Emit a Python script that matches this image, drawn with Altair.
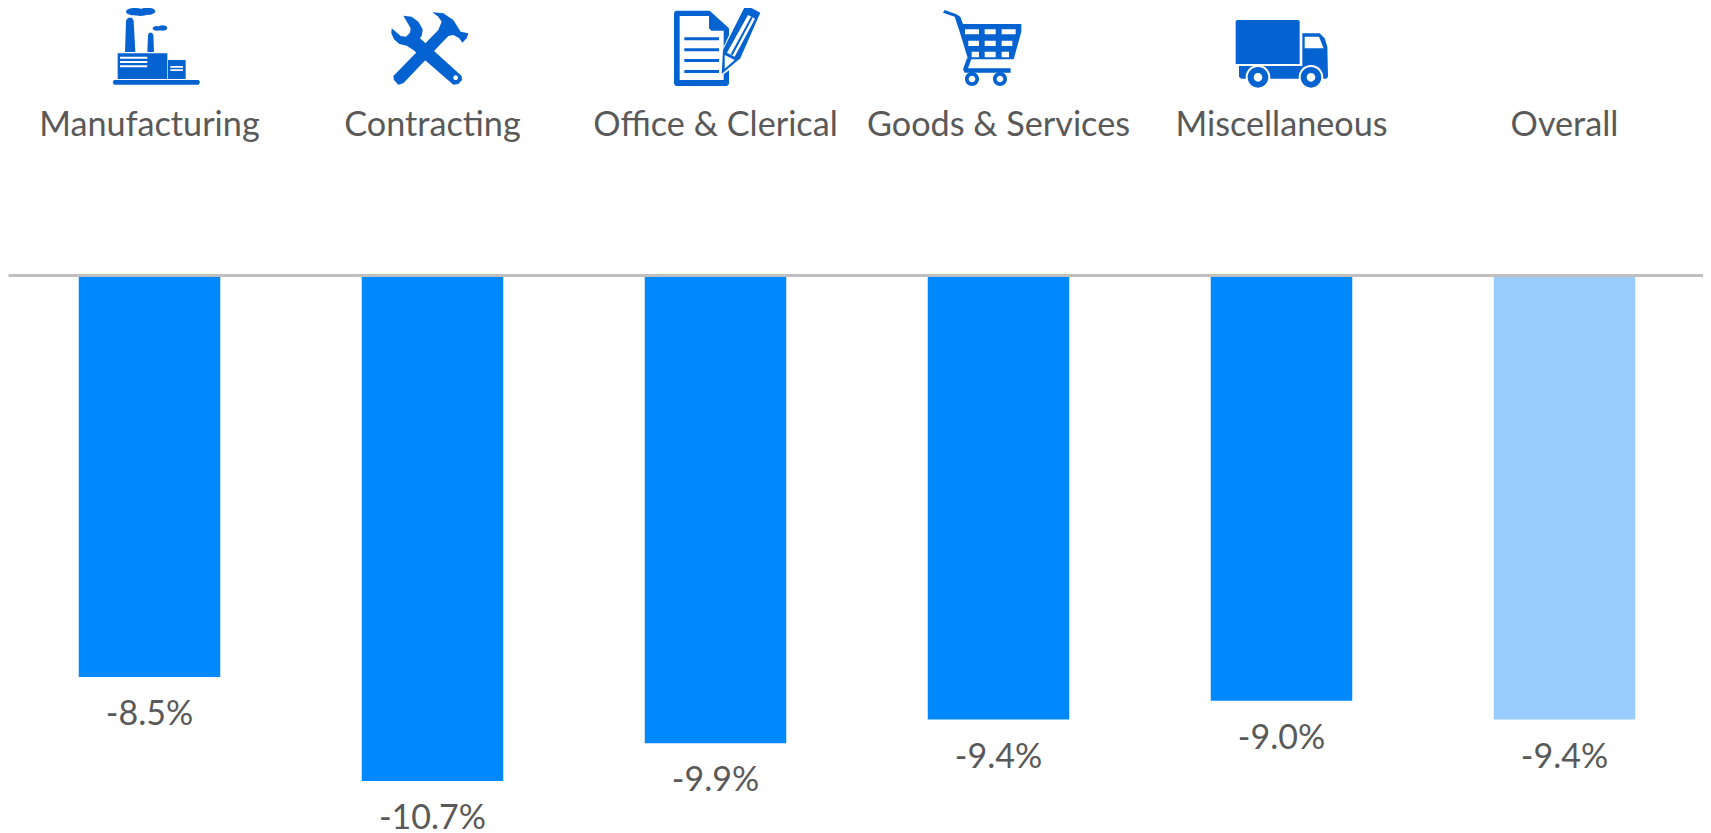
import re
import altair as alt
import pandas as pd

categories = ["Manufacturing", "Contracting", "Office & Clerical", "Goods & Services", "Miscellaneous", "Overall"]
values = [-8.5, -10.7, -9.9, -9.4, -9.0, -9.4]
bar_colors = ["#0088FF", "#0088FF", "#0088FF", "#0088FF", "#0088FF", "#99CCFF"]
labels = ["-8.5%", "-10.7%", "-9.9%", "-9.4%", "-9.0%", "-9.4%"]

BLUE = "#0563D1"
WHITE = "#FFFFFF"
TEXT = "#595959"


def poly(*pts):
    return "M" + " L".join(f"{x} {y}" for x, y in pts) + " Z"


def rect(x0, y0, x1, y1):
    return poly((x0, y0), (x1, y0), (x1, y1), (x0, y1))


def ell(cx, cy, rx, ry=None):
    ry = rx if ry is None else ry
    k = 0.5523
    return (
        f"M{cx + rx} {cy} "
        f"C{cx + rx} {cy + k * ry} {cx + k * rx} {cy + ry} {cx} {cy + ry} "
        f"C{cx - k * rx} {cy + ry} {cx - rx} {cy + k * ry} {cx - rx} {cy} "
        f"C{cx - rx} {cy - k * ry} {cx - k * rx} {cy - ry} {cx} {cy - ry} "
        f"C{cx + k * rx} {cy - ry} {cx + rx} {cy - k * ry} {cx + rx} {cy} Z"
    )


def shift(d, ox, oy):
    nums = iter(range(10**6))

    def repl(m):
        v = float(m.group(0))
        return f"{v - (ox if next(nums) % 2 == 0 else oy):.2f}"

    return re.sub(r"-?\d+\.?\d*", repl, d)


factory = [
    (BLUE, ell(135, 35, 27, 11) + ell(172, 34, 24, 11) + ell(150, 40, 24, 8)),
    (BLUE, ell(200, 85, 12, 7) + ell(218, 84, 14, 8)),
    (BLUE, poly((105, 156), (108, 62), (114, 53), (126, 53), (131, 62), (136, 156))),
    (BLUE, poly((172, 156), (174, 105), (178, 98), (186, 98), (190, 105), (192, 156))),
    (BLUE, rect(83, 160, 232, 237)),
    (BLUE, rect(234, 180, 287, 237)),
    (BLUE, poly((72, 240), (326, 240), (330, 247), (326, 254), (72, 254), (68, 247))),
    (WHITE, rect(90, 170, 172, 176) + rect(90, 183, 172, 189) + rect(90, 196, 172, 202)),
    (WHITE, rect(241, 198, 279, 203) + rect(241, 208, 279, 213)),
]
tools = [
    (BLUE, poly((1027, 37), (1060, 40), (1090, 60), (1112, 95), (1135, 100), (1130, 115), (1117, 128),
                (1108, 115), (1090, 105), (1075, 108), (940, 250), (925, 254), (912, 240), (910, 228),
                (1045, 90), (1055, 65), (1045, 50))),
    (BLUE, poly((940, 47), (965, 50), (985, 65), (998, 88), (996, 105), (990, 115), (1115, 228), (1116, 240),
                (1105, 252), (1090, 254), (970, 150), (950, 137), (928, 132), (912, 118), (904, 100), (905, 85),
                (932, 108), (948, 110), (960, 98), (962, 85))),
    (WHITE, ell(1097, 233, 7)),
]
office = [
    (BLUE, poly((108, 32), (210, 32), (268, 85), (268, 252), (262, 258), (109, 258), (103, 252), (103, 38))),
    (WHITE, poly((120, 48), (208, 48), (208, 85), (215, 92), (252, 92), (252, 240), (120, 240))),
    (BLUE, rect(134, 112, 238, 121) + rect(134, 145, 238, 154) + rect(134, 177, 238, 186) + rect(134, 210, 238, 219)),
    (WHITE, poly((252, 140), (315, 5), (372, 35), (308, 180), (240, 232))),
    (BLUE, poly((318, 15), (362, 38), (302, 175), (246, 222), (250, 150))),
    (WHITE, poly((325, 45), (346, 56), (285, 170), (262, 158))),
    (BLUE, poly((334, 50), (339, 53), (279, 166), (273, 163))),
    (WHITE, poly((255, 165), (285, 180), (255, 206))),
]
cart = [
    (BLUE, poly((910, 38), (915, 30), (950, 43), (962, 50), (970, 72), (1145, 72), (1145, 95), (1122, 178),
                (985, 178), (960, 95), (945, 50))),
    (WHITE, rect(976, 88, 1018, 103) + rect(1035, 88, 1068, 103) + rect(1086, 88, 1128, 103)),
    (WHITE, rect(986, 122, 1018, 138) + rect(1035, 122, 1068, 138) + rect(1086, 122, 1118, 138)),
    (WHITE, rect(996, 155, 1018, 172) + rect(1035, 155, 1068, 172) + rect(1086, 155, 1108, 172)),
    (BLUE, poly((982, 175), (995, 178), (985, 205), (1113, 205), (1113, 218), (975, 218), (970, 208))),
    (BLUE, ell(997, 237, 21) + ell(1081, 237, 21)),
    (WHITE, ell(997, 237, 10) + ell(1081, 237, 10)),
]
truck = [
    (BLUE, poly((262, 60), (446, 60), (450, 64), (450, 192), (258, 192), (258, 64))),
    (BLUE, poly((458, 100), (510, 100), (525, 115), (533, 140), (535, 230), (530, 236), (275, 236), (268, 230),
                (268, 198), (458, 198))),
    (WHITE, poly((465, 110), (508, 110), (522, 145), (465, 145))),
    (WHITE, ell(325, 232, 37) + ell(484, 232, 37)),
    (BLUE, ell(325, 232, 31) + ell(484, 232, 31)),
    (WHITE, ell(325, 232, 13) + ell(484, 232, 13)),
]

# (parts drawn in 3x-magnified units, local origin of each glyph)
icons = {
    "Manufacturing": (factory, 178.5, 24),
    "Contracting": (tools, 1027.5, 24),
    "Office & Clerical": (office, 227.5, 24),
    "Goods & Services": (cart, 1076.5, 24),
    "Miscellaneous": (truck, 395.5, 24),
}

bars_df = pd.DataFrame({"category": categories, "value": values, "color": bar_colors, "label": labels})
icon_df = pd.DataFrame(
    [
        {"category": c, "color": col, "glyph": shift(d, ox, oy)}
        for c, (parts, ox, oy) in icons.items()
        for col, d in parts
    ]
)

x_scale = alt.Scale(domain=categories, range=[0, 1698], paddingInner=0.5, paddingOuter=0.25)
y_scale = alt.Scale(domain=[-11.945, 5.645], nice=False, zero=False)
x_axis = alt.Axis(
    orient="top", offset=-267, title=None, ticks=False, grid=False, labelAngle=0,
    domainColor="#BFBFBF", domainWidth=3, zindex=1,
    labelFont="Lato", labelFontSize=34.2, labelColor=TEXT, labelPadding=150, labelBaseline="middle",
    labelLimit=0, labelOverlap=False,
)

bars = alt.Chart(bars_df).mark_bar(clip=False).encode(
    x=alt.X("category:N", scale=x_scale, sort=categories, axis=x_axis),
    y=alt.Y("value:Q", scale=y_scale, axis=None),
    y2=alt.datum(0),
    color=alt.Color("color:N", scale=None),
)
texts = alt.Chart(bars_df).mark_text(
    font="Lato", fontSize=34, color=TEXT, baseline="middle", align="center", dy=38
).encode(
    x=alt.X("category:N", scale=x_scale, sort=categories),
    y=alt.Y("value:Q", scale=y_scale),
    text="label:N",
)
glyphs = alt.Chart(icon_df).mark_point(filled=True, opacity=1, size=4 / 9, strokeWidth=0).encode(
    x=alt.X("category:N", scale=x_scale, sort=categories),
    y=alt.value(0),
    shape=alt.Shape("glyph:N", scale=None),
    color=alt.Color("color:N", scale=None),
)

chart = alt.layer(bars, texts, glyphs).properties(
    width=1695, height=832, padding=0, autosize=alt.AutoSizeParams(type="none"),
    background="white",
).configure_view(strokeWidth=0, stroke=None)

chart.save("out.html", embed_options={"renderer": "svg", "actions": False})
